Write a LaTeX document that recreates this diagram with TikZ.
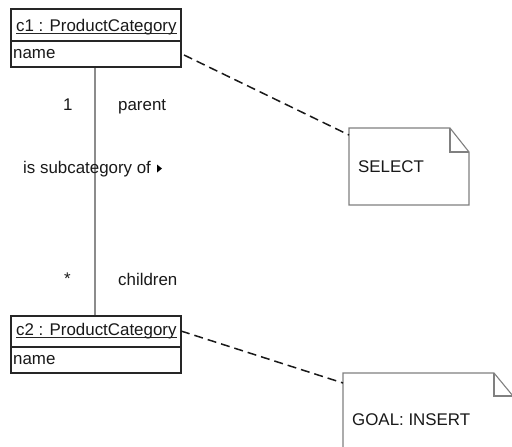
\documentclass[tikz,border=0pt]{standalone}
\usepackage{fontspec}
\setmainfont{Liberation Sans}
\begin{document}
\begin{tikzpicture}[x=1pt,y=-1pt,
  txt/.style={inner sep=0pt,anchor=base west,text=black!90,font=\fontsize{16.9}{20}\selectfont},
  objbox/.style={draw=black!85,line width=1.3pt,inner sep=0pt},
  uline/.style={draw=black!85,line width=0.9pt},
  link/.style={draw=black!45,line width=1.4pt},
  anchorline/.style={draw=black!90,line width=1.5pt,dash pattern=on 9pt off 5pt},
  notebox/.style={draw=black!50,line width=1.1pt,fill=white}]
\useasboundingbox (0,0) rectangle (512,447);
\clip (0,0) rectangle (512,447);
\fill[white] (0,0) rectangle (512,447);

% association between the two objects
\coordinate (c1bot) at (95,67);
\coordinate (c2top) at (95,316);
\draw[link] (c1bot) -- (c2top);

% object c1
\node[objbox,minimum width=170pt,minimum height=58pt] (c1) at (96,38) {};
\draw[black!85,line width=1.1pt] (11,41) -- (181,41);
\node[txt] (c1name) at (16,31) {c1 : ProductCategory};
\draw[uline] ([yshift=-2pt]c1name.base west) -- ([yshift=-2pt]c1name.base east);
\node[txt] (c1attr) at (13,58) {name};

% object c2
\node[objbox,minimum width=170pt,minimum height=57pt] (c2) at (96,344.5) {};
\draw[black!85,line width=1.1pt] (11,347) -- (181,347);
\node[txt] (c2name) at (16,335) {c2 : ProductCategory};
\draw[uline] ([yshift=-2pt]c2name.base west) -- ([yshift=-2pt]c2name.base east);
\node[txt] (c2attr) at (13,364) {name};

% association end labels
\node[txt] (m1) at (63,110) {1};
\node[txt] (r1) at (118,110) {parent};
\node[txt] (m2) at (64,284) {*};
\node[txt] (r2) at (118,285) {children};
\node[txt] (assoc) at (23,173) {is subcategory of};
\fill[black] (157,164.5) -- (162,168.5) -- (157,172.5) -- cycle;

% note SELECT
\coordinate (n1) at (349,128);
\draw[notebox] (n1) -- (450,128) -- (469,152) -- (469,205) -- (349,205) -- cycle;
\draw[black!50,line width=1.1pt] (450,128) -- (450,152) -- (469,152);
\node[txt] (n1text) at (358,172) {SELECT};

% note GOAL: INSERT
\coordinate (n2) at (343,373);
\draw[notebox] (n2) -- (494,373) -- (513,396) -- (513,460) -- (343,460) -- cycle;
\draw[black!50,line width=1.1pt] (494,373) -- (494,396) -- (513,396);
\node[txt] (n2text) at (352,425) {GOAL: INSERT};

% note anchors
\draw[anchorline] (184,55) -- (n1 |- 0,135);
\draw[anchorline] (181,331) -- (n2 |- 0,383);
\end{tikzpicture}
\end{document}
